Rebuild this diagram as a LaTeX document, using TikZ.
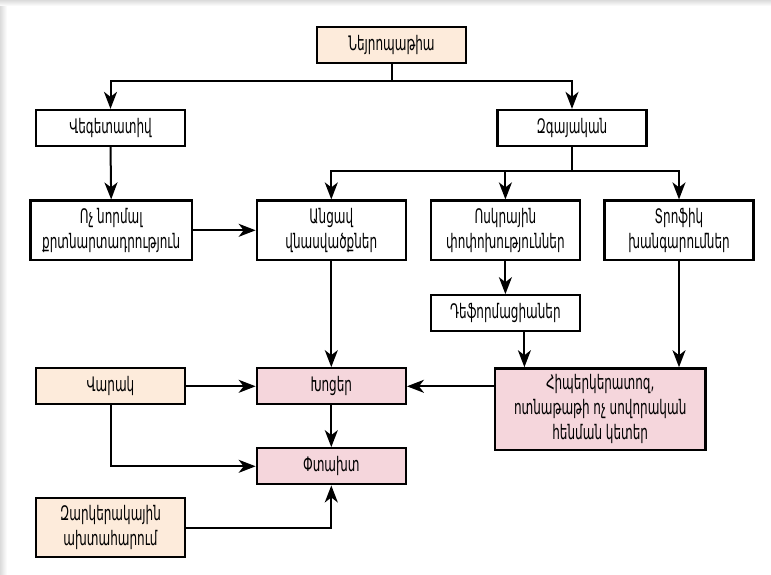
\documentclass[tikz,border=0pt]{standalone}
\usepackage{fontspec}
\newfontfamily\arm[FakeStretch=0.6]{DejaVu Sans}
\usetikzlibrary{arrows.meta}
\definecolor{peach}{HTML}{FDEBDB}
\definecolor{rose}{HTML}{F5D6DC}
\tikzset{
  box/.style={draw=black, line width=2.3pt, minimum width=149pt, minimum height=36pt,
    inner sep=0pt, align=center, font=\arm\fontsize{20}{25}\selectfont},
  tall/.style={minimum height=59.5pt},
  arr/.style={line width=2pt, -{Stealth[length=17pt, width=13pt, inset=5pt]}},
  ln/.style={line width=2pt}
}
\begin{document}
\begin{tikzpicture}[x=1pt, y=-1pt]
  \useasboundingbox (0,0) rectangle (771,575);
  \fill[white] (0,0) rectangle (771,575);
  \shade[left color=black!14, right color=white] (0,0) rectangle (7,575);
  \shade[top color=black!14, bottom color=white] (0,0) rectangle (771,6);

  % top level
  \node[box, fill=peach] (neur) at (391.5,45) {Նեյրոպաթիա};
  \node[box] (veg) at (110.5,128) {Վեգետատիվ};
  \node[box] (zga) at (572,128) {Զգայական};

  % third row
  \node[box, tall, minimum width=161.5pt] (voch) at (111.2,230.3) {Ոչ նորմալ\\քրտնարտադրություն};
  \node[box, tall] (ang) at (331.3,230.3) {Անցավ\\վնասվածքներ};
  \node[box, tall] (osk) at (505.4,230.3) {Ոսկրային\\փոփոխություններ};
  \node[box, tall] (tro) at (679,230.3) {Տրոֆիկ\\խանգարումներ};
  \node[box] (def) at (505.4,313.3) {Դեֆորմացիաներ};

  % lower rows
  \node[box, fill=peach] (var) at (110.5,386.3) {Վարակ};
  \node[box, fill=rose] (khots) at (331.3,386.3) {Խոցեր};
  \node[box, fill=rose, minimum width=210.5pt, minimum height=81.7pt] (hip) at (600.2,409.2)
    {Հիպերկերատոզ,\\ոտնաթաթի ոչ սովորական\\հենման կետեր};
  \node[box, fill=rose] (pt) at (331.3,466.3) {Փտախտ};
  \node[box, tall, fill=peach] (zark) at (110.5,527.5) {Զարկերակային\\ախտահարում};

  % connectors
  \coordinate (b1) at (391.5,81);
  \draw[ln] (neur.south) -- (b1);
  \draw[arr] (b1) -| (veg.north);
  \draw[arr] (b1) -| (zga.north);

  \coordinate (b2) at (572,171);
  \draw[ln] (zga.south) -- (b2);
  \draw[arr] (b2) -| (ang.north);
  \draw[arr] (b2) -| (osk.north);
  \draw[arr] (b2) -| (tro.north);

  \draw[arr] (veg.south) -- (voch.north);
  \draw[arr] (voch.east) -- (ang.west);
  \draw[arr] (ang.south) -- (khots.north);
  \draw[arr] (osk.south) -- (def.north);
  \draw[arr] ([xshift=19pt]def.south) -- ([xshift=19pt]def.south |- hip.north);
  \draw[arr] (tro.south) -- (tro.south |- hip.north);

  \draw[arr] (var.east) -- (khots.west);
  \draw[arr] (hip.west |- khots.east) -- (khots.east);
  \draw[arr] (khots.south) -- (pt.north);
  \draw[arr] (var.south) |- (pt.west);
  \draw[arr] (zark.east) -| (pt.south);
\end{tikzpicture}
\end{document}
